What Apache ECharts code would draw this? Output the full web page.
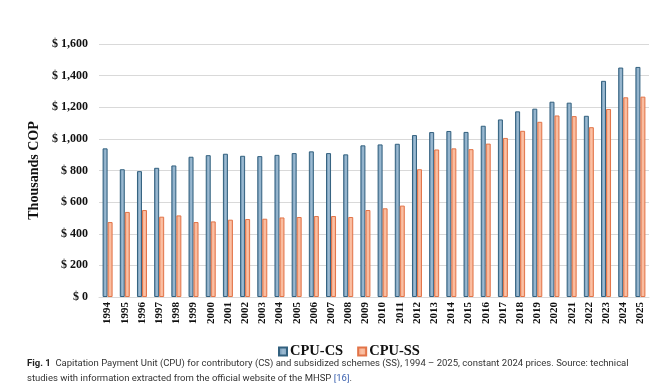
<!DOCTYPE html>
<html>
<head>
<meta charset="utf-8">
<script src="https://cdn.jsdelivr.net/npm/echarts@6/dist/echarts.min.js"></script>
<style>html,body{margin:0;padding:0;background:#fff}#c{width:662px;height:391px}</style>
</head>
<body>
<div id="c"></div>
<script>
const years = ['1994','1995','1996','1997','1998','1999','2000','2001','2002','2003','2004','2005','2006','2007','2008','2009','2010','2011','2012','2013','2014','2015','2016','2017','2018','2019','2020','2021','2022','2023','2024','2025'];
const cpuCS = [940,808,796,817,832,887,897,906,893,891,899,910,921,910,902,959,965,969,1024,1043,1050,1044,1083,1123,1174,1191,1235,1229,1146,1367,1451,1455];
const cpuSS = [474,538,550,508,516,474,478,489,493,495,503,506,512,512,506,550,561,578,808,933,940,935,970,1006,1051,1108,1148,1144,1074,1189,1263,1267];
const yTicks = [0,200,400,600,800,1000,1200,1400,1600];

const chart = echarts.init(document.getElementById('c'), null, {renderer:'canvas'});
const serif = '"Liberation Serif", "Times New Roman", serif';
const sans = 'Roboto, "Noto Sans", sans-serif';
chart.setOption({
  animation:false,
  backgroundColor:'#fff',
  grid:{left:99, right:13, top:44, bottom:94, containLabel:false},
  legend:{
    left:273, top:339, itemWidth:8, itemHeight:8, itemGap:14,
    icon:'rect',
    textStyle:{fontFamily:serif, fontWeight:'bold', fontSize:14.5, color:'#111', padding:[0,0,0,-2]},
    data:['CPU-CS','CPU-SS']
  },
  xAxis:{
    type:'category', data:years,
    axisLine:{show:true, lineStyle:{color:'#d9d9d9', width:1}},
    axisTick:{show:false},
    axisLabel:{rotate:90, interval:0, fontFamily:serif, fontWeight:'bold', fontSize:11, color:'#111', margin:5}
  },
  yAxis:{
    type:'value', min:yTicks[0], max:yTicks[yTicks.length-1], interval:200,
    name:'Thousands COP', nameLocation:'middle', nameGap:58, nameRotate:90,
    nameTextStyle:{fontFamily:serif, fontWeight:'bold', fontSize:14, color:'#111'},
    axisLine:{show:false}, axisTick:{show:false},
    splitLine:{lineStyle:{color:'#d9d9d9', width:1}},
    axisLabel:{fontFamily:serif, fontWeight:'bold', fontSize:12, color:'#111', margin:11,
      formatter:v=>'$ '+v.toLocaleString('en-US')}
  },
  series:[
    {name:'CPU-CS', type:'bar', data:cpuCS, barWidth:5, barGap:'0%',
      itemStyle:{color:new echarts.graphic.LinearGradient(0,0,1,0,[{offset:0,color:'#5f89ab'},{offset:0.5,color:'#9dbbd2'},{offset:1,color:'#7fa3c0'}]), borderColor:'#33617f', borderWidth:1}},
    {name:'CPU-SS', type:'bar', data:cpuSS, barWidth:5,
      itemStyle:{color:new echarts.graphic.LinearGradient(0,0,1,0,[{offset:0,color:'#f3a07c'},{offset:0.5,color:'#fbc2a6'},{offset:1,color:'#f5ab8a'}]), borderColor:'#e27448', borderWidth:1}}
  ],
  graphic:[
    {type:'text', left:27, top:359, style:{
      text:'{b|Fig. 1}  Capitation Payment Unit (CPU) for contributory (CS) and subsidized schemes (SS), 1994 – 2025, constant 2024 prices. Source: technical',
      rich:{b:{fontFamily:sans, fontWeight:'bold', fontSize:9.5, fill:'#222'}},
      font:'9.5px '+sans, fill:'#333'}},
    {type:'text', left:27, top:374, style:{
      text:'studies with information extracted from the official website of the MHSP {l|[16]}.',
      rich:{l:{fontFamily:sans, fontSize:9.5, fill:'#3d63b0'}},
      font:'9.5px '+sans, fill:'#333'}}
  ]
});
</script>
</body>
</html>
